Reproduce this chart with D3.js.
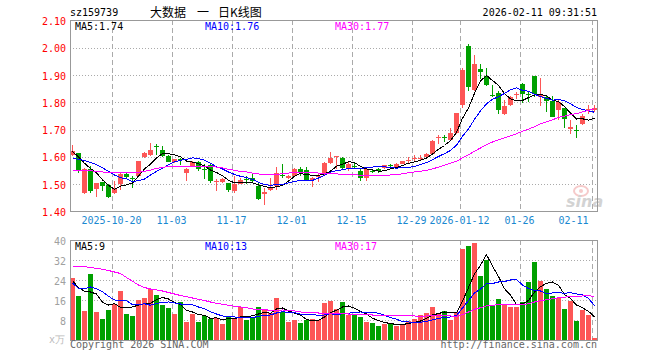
<!DOCTYPE html>
<html>
<head>
<meta charset="utf-8">
<title>大数据 日K线图</title>
<script src="https://cdn.jsdelivr.net/npm/d3@7"></script>
<style>
    body { margin: 0; background: #fff; }
    svg { display: block; }
    text { font-family: "DejaVu Sans Mono", "Liberation Mono", monospace; font-size: 10px; }
</style>
</head>
<body>
<div id="chart"></div>
<script>
// trading days shown on the chart
var dates = [
    '2025-10-09', '2025-10-10', '2025-10-13', '2025-10-14', '2025-10-15', '2025-10-16', '2025-10-17',
    '2025-10-20', '2025-10-21', '2025-10-22', '2025-10-23', '2025-10-24', '2025-10-27', '2025-10-28', '2025-10-29', '2025-10-30', '2025-10-31',
    '2025-11-03', '2025-11-04', '2025-11-05', '2025-11-06', '2025-11-07', '2025-11-10', '2025-11-11', '2025-11-12', '2025-11-13', '2025-11-14',
    '2025-11-17', '2025-11-18', '2025-11-19', '2025-11-20', '2025-11-21', '2025-11-24', '2025-11-25', '2025-11-26', '2025-11-27', '2025-11-28',
    '2025-12-01', '2025-12-02', '2025-12-03', '2025-12-04', '2025-12-05', '2025-12-08', '2025-12-09', '2025-12-10', '2025-12-11', '2025-12-12',
    '2025-12-15', '2025-12-16', '2025-12-17', '2025-12-18', '2025-12-19', '2025-12-22', '2025-12-23', '2025-12-24', '2025-12-25', '2025-12-26',
    '2025-12-29', '2025-12-30', '2025-12-31', '2026-01-05', '2026-01-06', '2026-01-07', '2026-01-08', '2026-01-09',
    '2026-01-12', '2026-01-13', '2026-01-14', '2026-01-15', '2026-01-16', '2026-01-19', '2026-01-20', '2026-01-21', '2026-01-22', '2026-01-23',
    '2026-01-26', '2026-01-27', '2026-01-28', '2026-01-29', '2026-01-30', '2026-02-02', '2026-02-03', '2026-02-04', '2026-02-05', '2026-02-06',
    '2026-02-09', '2026-02-10', '2026-02-11'
];

var openP = [
    1.604, 1.611, 1.465, 1.555, 1.479, 1.506, 1.495, 1.465, 1.498, 1.534,
    1.522, 1.528, 1.599, 1.604, 1.638, 1.622, 1.602, 1.580, 1.590, 1.540,
    1.565, 1.580, 1.553, 1.567, 1.509, 1.506, 1.501, 1.473, 1.500, 1.517,
    1.520, 1.491, 1.462, 1.477, 1.491, 1.533, 1.521, 1.528, 1.553, 1.550,
    1.513, 1.526, 1.531, 1.577, 1.598, 1.593, 1.559, 1.564, 1.547, 1.522,
    1.547, 1.555, 1.559, 1.568, 1.562, 1.574, 1.584, 1.593, 1.594, 1.598,
    1.608, 1.668, 1.670, 1.661, 1.685, 1.788, 2.006, 1.844, 1.920, 1.896,
    1.824, 1.832, 1.755, 1.788, 1.826, 1.865, 1.828, 1.894, 1.816, 1.816,
    1.804, 1.771, 1.777, 1.700, 1.696, 1.718, 1.771, 1.769
];
var closeP = [
    1.619, 1.550, 1.553, 1.475, 1.501, 1.491, 1.451, 1.479, 1.534, 1.524,
    1.520, 1.582, 1.611, 1.622, 1.636, 1.602, 1.581, 1.589, 1.588, 1.555,
    1.580, 1.555, 1.551, 1.510, 1.511, 1.516, 1.477, 1.500, 1.512, 1.515,
    1.510, 1.445, 1.469, 1.485, 1.538, 1.531, 1.528, 1.553, 1.540, 1.512,
    1.521, 1.528, 1.577, 1.593, 1.600, 1.559, 1.574, 1.562, 1.522, 1.553,
    1.544, 1.547, 1.567, 1.566, 1.572, 1.582, 1.586, 1.595, 1.596, 1.610,
    1.657, 1.670, 1.668, 1.685, 1.759, 1.918, 1.855, 1.939, 1.911, 1.863,
    1.822, 1.771, 1.783, 1.816, 1.828, 1.828, 1.826, 1.828, 1.826, 1.804,
    1.746, 1.800, 1.739, 1.708, 1.694, 1.749, 1.773, 1.777
];
var highP = [
    1.641, 1.614, 1.556, 1.565, 1.503, 1.508, 1.500, 1.510, 1.540, 1.542,
    1.528, 1.584, 1.616, 1.651, 1.646, 1.640, 1.604, 1.592, 1.595, 1.557,
    1.584, 1.582, 1.572, 1.574, 1.516, 1.522, 1.503, 1.528, 1.522, 1.528,
    1.540, 1.503, 1.483, 1.522, 1.562, 1.572, 1.533, 1.556, 1.562, 1.562,
    1.526, 1.534, 1.579, 1.616, 1.602, 1.598, 1.578, 1.578, 1.553, 1.559,
    1.553, 1.559, 1.570, 1.572, 1.576, 1.584, 1.598, 1.604, 1.607, 1.614,
    1.660, 1.677, 1.677, 1.703, 1.760, 1.923, 2.012, 1.972, 1.939, 1.923,
    1.861, 1.841, 1.806, 1.822, 1.835, 1.869, 1.841, 1.896, 1.886, 1.824,
    1.822, 1.810, 1.779, 1.735, 1.716, 1.754, 1.789, 1.787
];
var lowP = [
    1.603, 1.540, 1.461, 1.467, 1.451, 1.473, 1.446, 1.461, 1.477, 1.522,
    1.485, 1.526, 1.594, 1.602, 1.604, 1.598, 1.578, 1.576, 1.570, 1.510,
    1.560, 1.546, 1.516, 1.504, 1.474, 1.504, 1.471, 1.467, 1.498, 1.498,
    1.504, 1.440, 1.423, 1.474, 1.477, 1.521, 1.516, 1.525, 1.528, 1.509,
    1.488, 1.507, 1.528, 1.574, 1.553, 1.555, 1.547, 1.553, 1.510, 1.510,
    1.538, 1.541, 1.553, 1.562, 1.559, 1.572, 1.577, 1.585, 1.587, 1.590,
    1.605, 1.647, 1.653, 1.657, 1.683, 1.777, 1.841, 1.841, 1.882, 1.859,
    1.816, 1.755, 1.753, 1.783, 1.810, 1.796, 1.798, 1.816, 1.784, 1.763,
    1.743, 1.735, 1.705, 1.681, 1.669, 1.714, 1.755, 1.763
];

// price moving averages
var ma5 = [
    1.618, 1.598, 1.575, 1.556, 1.540, 1.514, 1.494, 1.479, 1.491, 1.496,
    1.502, 1.528, 1.554, 1.572, 1.594, 1.611, 1.610, 1.606, 1.599, 1.583,
    1.579, 1.573, 1.566, 1.550, 1.541, 1.529, 1.513, 1.503, 1.503, 1.504,
    1.503, 1.496, 1.490, 1.485, 1.489, 1.494, 1.510, 1.527, 1.538, 1.533,
    1.531, 1.531, 1.536, 1.546, 1.564, 1.571, 1.581, 1.578, 1.563, 1.554,
    1.551, 1.546, 1.547, 1.555, 1.559, 1.567, 1.575, 1.580, 1.586, 1.594,
    1.609, 1.626, 1.640, 1.658, 1.688, 1.740, 1.777, 1.831, 1.876, 1.897,
    1.878, 1.861, 1.830, 1.811, 1.804, 1.805, 1.816, 1.825, 1.827, 1.822,
    1.806, 1.801, 1.783, 1.759, 1.737, 1.738, 1.733, 1.740
];
var ma10 = [
    1.592, 1.590, 1.585, 1.578, 1.570, 1.558, 1.545, 1.532, 1.522, 1.518,
    1.508, 1.511, 1.517, 1.532, 1.545, 1.556, 1.569, 1.580, 1.586, 1.589,
    1.595, 1.592, 1.586, 1.575, 1.562, 1.554, 1.543, 1.534, 1.527, 1.523,
    1.516, 1.505, 1.497, 1.494, 1.497, 1.498, 1.503, 1.509, 1.511, 1.511,
    1.512, 1.521, 1.531, 1.542, 1.548, 1.551, 1.556, 1.557, 1.555, 1.559,
    1.561, 1.563, 1.562, 1.559, 1.557, 1.559, 1.560, 1.563, 1.571, 1.577,
    1.588, 1.600, 1.610, 1.622, 1.641, 1.674, 1.701, 1.736, 1.767, 1.793,
    1.809, 1.819, 1.831, 1.844, 1.851, 1.842, 1.839, 1.828, 1.819, 1.813,
    1.806, 1.809, 1.804, 1.793, 1.780, 1.772, 1.767, 1.762
];
var ma30 = [
    1.547, 1.547, 1.547, 1.547, 1.546, 1.543, 1.542, 1.542, 1.542, 1.542,
    1.542, 1.542, 1.545, 1.550, 1.556, 1.560, 1.563, 1.564, 1.564, 1.564,
    1.564, 1.564, 1.564, 1.563, 1.561, 1.558, 1.553, 1.549, 1.545, 1.543,
    1.539, 1.536, 1.533, 1.533, 1.535, 1.536, 1.539, 1.541, 1.541, 1.541,
    1.541, 1.539, 1.538, 1.537, 1.536, 1.534, 1.534, 1.533, 1.531, 1.531,
    1.530, 1.529, 1.530, 1.532, 1.534, 1.536, 1.540, 1.543, 1.546, 1.549,
    1.554, 1.561, 1.568, 1.575, 1.582, 1.595, 1.606, 1.619, 1.631, 1.643,
    1.653, 1.661, 1.668, 1.675, 1.683, 1.692, 1.700, 1.709, 1.719, 1.727,
    1.734, 1.743, 1.748, 1.753, 1.757, 1.763, 1.769, 1.775
];

// volume, in 万
var volume = [
    24.9, 17.6, 11.7, 26.4, 11.3, 8.4, 12.0, 14.3, 19.6, 10.5,
    9.6, 16.0, 16.8, 20.4, 18.0, 14.0, 12.8, 10.4, 15.2, 7.2,
    10.4, 7.2, 9.6, 8.4, 8.8, 6.4, 9.6, 8.8, 13.1, 8.0,
    9.1, 13.1, 12.4, 10.7, 16.8, 11.1, 7.2, 8.0, 6.8, 8.0,
    8.5, 8.0, 14.7, 15.7, 12.5, 15.2, 10.0, 10.3, 9.2, 7.2,
    6.8, 5.6, 6.4, 6.8, 5.6, 6.4, 7.6, 8.4, 10.0, 10.8,
    13.2, 10.4, 11.6, 8.0, 11.2, 36.4, 37.6, 38.8, 25.6, 32.0,
    14.0, 16.4, 14.4, 13.2, 13.2, 15.2, 23.2, 31.2, 23.6, 20.4,
    17.6, 16.8, 12.4, 15.6, 7.6, 12.0, 10.0, 0.9
];
var volMa5 = [
    23.7, 21.0, 19.5, 19.2, 18.4, 15.1, 14.0, 14.5, 13.1, 13.0,
    13.2, 14.0, 14.5, 14.7, 16.2, 17.0, 16.4, 15.1, 14.1, 11.9,
    11.2, 10.1, 9.9, 8.6, 8.9, 8.1, 8.6, 8.4, 9.3, 9.2,
    9.7, 10.4, 11.1, 10.7, 12.4, 12.8, 11.6, 10.8, 10.0, 8.2,
    7.7, 7.9, 9.2, 11.0, 11.9, 13.2, 13.6, 12.7, 11.4, 10.4,
    8.7, 7.8, 7.0, 6.6, 6.2, 6.2, 6.6, 7.0, 7.6, 8.6,
    10.0, 10.6, 11.2, 10.8, 10.9, 15.5, 21.0, 26.4, 29.9, 34.1,
    29.6, 25.4, 20.5, 18.0, 14.2, 14.5, 15.8, 19.2, 21.3, 22.7,
    23.2, 21.9, 18.2, 16.6, 14.0, 12.9, 11.5, 9.2
];
var volMa10 = [
    22.7, 20.7, 20.5, 21.2, 20.5, 19.3, 17.5, 16.0, 15.8, 15.7,
    14.1, 14.0, 14.5, 13.9, 14.6, 15.1, 15.2, 14.8, 14.4, 14.0,
    14.1, 13.2, 12.5, 11.3, 10.4, 9.6, 9.3, 9.2, 9.0, 9.0,
    8.9, 9.5, 9.8, 10.0, 10.8, 11.3, 11.0, 11.0, 10.3, 10.3,
    10.3, 9.8, 10.0, 10.5, 10.1, 10.5, 10.7, 11.0, 11.2, 11.1,
    11.0, 10.7, 9.9, 9.0, 8.3, 7.4, 7.2, 7.0, 7.1, 7.4,
    8.1, 8.6, 9.1, 9.2, 9.8, 12.8, 15.8, 18.8, 20.4, 22.5,
    22.6, 23.2, 23.4, 24.0, 24.2, 22.0, 20.6, 19.8, 19.6, 18.5,
    18.8, 18.9, 18.7, 18.9, 18.4, 18.0, 16.7, 13.7
];
var volMa30 = [
    29.5, 29.5, 29.3, 29.0, 28.6, 28.3, 27.8, 27.2, 26.6, 25.0,
    23.5, 22.0, 21.0, 20.4, 20.0, 19.6, 19.0, 18.4, 17.8, 17.3,
    16.8, 16.3, 15.8, 15.2, 14.7, 14.3, 13.9, 13.5, 13.2, 12.9,
    12.4, 12.2, 12.3, 11.7, 11.9, 12.0, 11.9, 11.6, 11.2, 11.1,
    11.1, 10.8, 10.8, 10.6, 10.4, 10.5, 10.4, 10.4, 10.2, 10.2,
    10.0, 10.0, 9.9, 9.8, 9.7, 9.7, 9.7, 9.6, 9.5, 9.6,
    9.8, 9.7, 9.7, 9.6, 9.4, 10.2, 11.2, 12.3, 12.9, 13.7,
    13.9, 14.1, 14.1, 14.1, 14.1, 14.1, 14.5, 15.2, 15.7, 16.1,
    16.5, 16.9, 17.1, 17.4, 17.4, 17.6, 17.7, 17.4
];

var priceTicks = [1.4, 1.5, 1.6, 1.7, 1.8, 1.9, 2.0, 2.1];
var volumeTicks = [8, 16, 24, 32, 40];
var tickDates = ['2025-10-20', '2025-11-03', '2025-11-17', '2025-12-01', '2025-12-15', '2025-12-29', '2026-01-12', '2026-01-26', '2026-02-11'];
var tickLabels = ['2025-10-20', '11-03', '11-17', '12-01', '12-15', '12-29', '2026-01-12', '01-26', '02-11'];
var priceLegend = ['MA5:1.74', 'MA10:1.76', 'MA30:1.77'];
var volumeLegend = ['MA5:9', 'MA10:13', 'MA30:17'];

(function () {
    'use strict';

    var colors = {
        up: '#fd5656',
        down: '#00a000',
        ma: ['#000000', '#0000ff', '#ff00ff'],
        grid: '#aaaaaa',
        frame: '#999999'
    };
    var frame = { left: 70, right: 598, top: 20, bottom: 211, volTop: 240, volBottom: 340 };

    var svg = d3.select('#chart').append('svg')
        .attr('width', 660)
        .attr('height', 360)
        .style('background', '#fff');

    var x = d3.scaleBand().domain(dates).range([frame.left, frame.right]).padding(0);
    var y = d3.scaleLinear().domain([1.4, 2.1]).range([frame.bottom, frame.top]);
    var yv = d3.scaleLinear().domain([0, 40]).range([frame.volBottom, frame.volTop]);

    function row(v) { return Math.ceil(v - 0.001) + 0.5; }

    // grid
    var grid = svg.append('g').attr('shape-rendering', 'crispEdges');
    grid.selectAll('line.hp').data(priceTicks.slice(1, -1)).join('line')
        .attr('x1', frame.left).attr('x2', frame.right)
        .attr('y1', function (d) { return row(y(d)); })
        .attr('y2', function (d) { return row(y(d)); })
        .attr('stroke', colors.grid).attr('stroke-dasharray', '1,2');
    grid.selectAll('line.hv').data(volumeTicks.slice(0, -1)).join('line')
        .attr('x1', frame.left).attr('x2', frame.right)
        .attr('y1', function (d) { return row(yv(d)); })
        .attr('y2', function (d) { return row(yv(d)); })
        .attr('stroke', colors.grid).attr('stroke-dasharray', '1,2');
    [[frame.top, frame.bottom], [frame.volTop, frame.volBottom]].forEach(function (span) {
        grid.append('g').selectAll('line').data(tickDates).join('line')
            .attr('x1', function (d) { return x(d) + 0.5; })
            .attr('x2', function (d) { return x(d) + 0.5; })
            .attr('y1', span[0]).attr('y2', span[1])
            .attr('stroke', colors.grid).attr('stroke-dasharray', '5,3');
    });

    // sina watermark
    var mark = svg.append('g').attr('opacity', 0.55);
    mark.append('ellipse').attr('cx', 581).attr('cy', 191).attr('rx', 7).attr('ry', 5)
        .attr('fill', 'none').attr('stroke', '#f0a0a0').attr('stroke-width', 2);
    mark.append('circle').attr('cx', 581).attr('cy', 191).attr('r', 2).attr('fill', '#f0a0a0');
    mark.append('text').attr('x', 566).attr('y', 207)
        .style('font-family', 'DejaVu Sans').style('font-size', '16px')
        .style('font-weight', 'bold').style('font-style', 'italic')
        .attr('fill', '#b0b0b0').text('sina');

    // candles
    var bars = dates.map(function (d, i) {
        return { date: d, open: openP[i], close: closeP[i], high: highP[i], low: lowP[i], volume: volume[i] };
    });
    var candles = svg.append('g').attr('shape-rendering', 'crispEdges')
        .selectAll('g').data(bars).join('g')
        .attr('fill', function (d) { return d.close >= d.open ? colors.up : colors.down; });
    candles.append('rect')
        .attr('x', function (d) { return x(d.date) + 2; })
        .attr('y', function (d) { return Math.round(y(d.high)); })
        .attr('width', 1)
        .attr('height', function (d) { return Math.max(1, Math.round(y(d.low)) - Math.round(y(d.high))); });
    candles.append('rect')
        .attr('x', function (d) { return x(d.date); })
        .attr('y', function (d) { return Math.round(y(Math.max(d.open, d.close))); })
        .attr('width', x.bandwidth() - 1)
        .attr('height', function (d) {
            return Math.max(1, Math.round(y(Math.min(d.open, d.close))) - Math.round(y(Math.max(d.open, d.close))));
        });

    // volume bars
    svg.append('g').attr('shape-rendering', 'crispEdges')
        .selectAll('rect').data(bars).join('rect')
        .attr('x', function (d) { return x(d.date); })
        .attr('y', function (d) { return Math.round(yv(d.volume)); })
        .attr('width', x.bandwidth() - 1)
        .attr('height', function (d) { return frame.volBottom - Math.round(yv(d.volume)); })
        .attr('fill', function (d) { return d.close >= d.open ? colors.up : colors.down; });

    // moving averages, 1px aliased like the original
    function maLine(scale) {
        return d3.line()
            .x(function (v, i) { return x(dates[i]) + 2.5; })
            .y(function (v) { return scale(v); });
    }
    var lines = svg.append('g').attr('fill', 'none').attr('stroke-width', 1)
        .attr('shape-rendering', 'crispEdges');
    [ma5, ma10, ma30].forEach(function (s, k) {
        lines.append('path').attr('d', maLine(y)(s)).attr('stroke', colors.ma[k]);
    });
    [volMa5, volMa10, volMa30].forEach(function (s, k) {
        lines.append('path').attr('d', maLine(yv)(s)).attr('stroke', colors.ma[k]);
    });

    // frames
    svg.append('rect').attr('x', frame.left + 0.5).attr('y', frame.top + 0.5)
        .attr('width', frame.right - frame.left - 1).attr('height', frame.bottom - frame.top)
        .attr('fill', 'none').attr('stroke', colors.frame).attr('shape-rendering', 'crispEdges');
    svg.append('rect').attr('x', frame.left + 0.5).attr('y', frame.volTop + 0.5)
        .attr('width', frame.right - frame.left - 1).attr('height', frame.volBottom - frame.volTop)
        .attr('fill', 'none').attr('stroke', colors.frame).attr('shape-rendering', 'crispEdges');

    // axes
    function clean(g, color) {
        g.select('.domain').remove();
        g.attr('font-family', null).attr('font-size', null);
        g.selectAll('text').attr('fill', color);
    }
    svg.append('g').attr('transform', 'translate(' + (frame.left - 1) + ',0)')
        .call(d3.axisLeft(y).tickValues(priceTicks).tickFormat(d3.format('.2f')).tickSize(0).tickPadding(3))
        .call(clean, '#ff0000')
        .selectAll('text').attr('dy', '0.45em');
    svg.append('g').attr('transform', 'translate(' + (frame.left - 1) + ',0)')
        .call(d3.axisLeft(yv).tickValues(volumeTicks).tickSize(0).tickPadding(3))
        .call(clean, '#a0a0a0')
        .selectAll('text').attr('dy', '0.4em');
    var xAxis = svg.append('g').attr('transform', 'translate(' + (-x.bandwidth() / 2 - 0.5) + ',' + frame.bottom + ')')
        .call(d3.axisBottom(x).tickValues(tickDates)
            .tickFormat(function (d, i) { return tickLabels[i]; })
            .tickSize(0).tickPadding(6))
        .call(clean, '#1a88d0');
    xAxis.selectAll('text').filter(function (d) { return d === tickDates[tickDates.length - 1]; })
        .attr('text-anchor', 'end').attr('dx', '-0.3em');

    // legends
    var legendX = [75, 205, 335];
    priceLegend.forEach(function (t, k) {
        svg.append('text').attr('x', legendX[k]).attr('y', 30).attr('fill', colors.ma[k]).text(t);
    });
    volumeLegend.forEach(function (t, k) {
        svg.append('text').attr('x', legendX[k]).attr('y', 250).attr('fill', colors.ma[k]).text(t);
    });

    // titles
    svg.append('text').attr('x', 70).attr('y', 16).attr('fill', '#000').text('sz159739');
    var title = svg.append('text').attr('y', 17).attr('fill', '#000')
        .style('font-family', '"Noto Sans CJK SC", sans-serif').style('font-size', '12px');
    title.append('tspan').attr('x', 150).text('大数据');
    title.append('tspan').attr('x', 197).text('一');
    title.append('tspan').attr('x', 218).text('日K线图');
    svg.append('text').attr('x', 597).attr('y', 16).attr('text-anchor', 'end').attr('fill', '#000')
        .text('2026-02-11 09:31:51');

    svg.append('text').attr('x', 70).attr('y', 348).attr('fill', '#666').text('Copyright 2026 SINA.COM');
    svg.append('text').attr('x', 597).attr('y', 348).attr('text-anchor', 'end').attr('fill', '#666')
        .text('http://finance.sina.com.cn');
    svg.append('text').attr('x', 49).attr('y', 343).attr('fill', '#bbb').text('x万');
}());
</script>
</body>
</html>
